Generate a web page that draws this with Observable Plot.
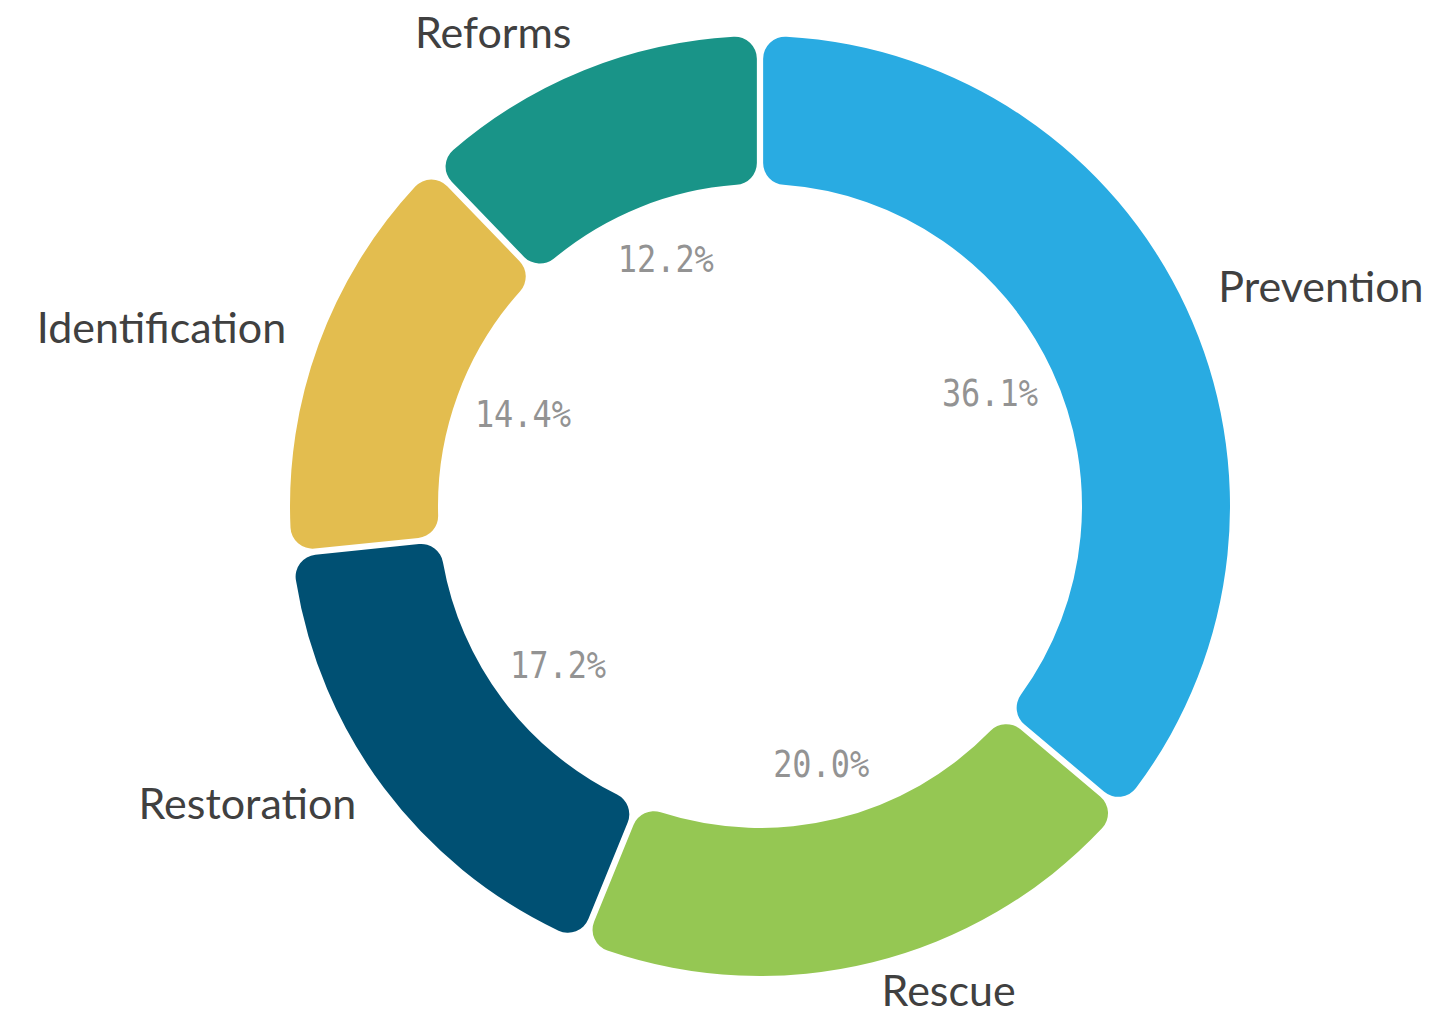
<!DOCTYPE html>
<html>
<head>
<meta charset="utf-8">
<script src="https://cdn.jsdelivr.net/npm/d3@7"></script>
<script src="https://cdn.jsdelivr.net/npm/@observablehq/plot@0.6"></script>
<style>
  html, body { margin: 0; padding: 0; background: #fff; }
  #chart svg { display: block; }
</style>
</head>
<body>
<div id="chart"></div>
<script>
// ---- data ----
const categories = ["Prevention", "Rescue", "Restoration", "Identification", "Reforms"];
const values = [36.1, 20.0, 17.2, 14.4, 12.2];
const percentLabels = ["36.1%", "20.0%", "17.2%", "14.4%", "12.2%"];
const colors = ["#29abe2", "#95c753", "#005073", "#e3bd4f", "#199488"];

// ---- layout ----
const W = 1449, H = 1014;
const CX = 760, CY = 506;       // ring centre in pixels
const R_OUT = 470, R_IN = 322;  // ring radii
const R_PCT_X = 253, R_PCT_Y = 266, R_LABEL = 505;

const pie = d3.pie().sort(null).value(d => d.value);
const rows = categories.map((c, i) => ({category: c, value: values[i], pct: percentLabels[i], color: colors[i]}));
const arcs = pie(rows).map(a => {
  const mid = (a.startAngle + a.endAngle) / 2;
  return {...a.data, startAngle: a.startAngle, endAngle: a.endAngle, mid,
    px: R_PCT_X * Math.sin(mid), py: R_PCT_Y * Math.cos(mid),
    lx: R_LABEL * Math.sin(mid), ly: R_LABEL * Math.cos(mid)};
});

const ringMark = (index, scales) => {
  const cx = scales.x(0), cy = scales.y(0);
  const k = scales.x(1) - scales.x(0);
  const arc = d3.arc()
    .innerRadius(R_IN * k).outerRadius(R_OUT * k)
    .cornerRadius(22 * k).padAngle(0.011);
  const g = d3.create("svg:g").attr("transform", `translate(${cx},${cy})`);
  g.selectAll("path").data(arcs).join("path")
    .attr("d", d => arc(d))
    .attr("fill", d => d.color);
  return g.node();
};

const labelFont = "Lato, 'Noto Sans', sans-serif";
const chart = Plot.plot({
  width: W, height: H, margin: 0,
  x: {domain: [-CX, W - CX], axis: null},
  y: {domain: [-(H - CY), CY], axis: null},
  marks: [
    ringMark,
    Plot.text(arcs, {x: "px", y: "py", text: "pct", fill: "#939393",
      fontSize: 37, fontFamily: "'DejaVu Sans Mono', monospace"}),
    Plot.text(arcs.filter(d => Math.sin(d.mid) >= 0), {x: "lx", y: "ly", text: "category", dy: -5,
      textAnchor: "start", fill: "#404040", fontSize: 43, fontFamily: labelFont}),
    Plot.text(arcs.filter(d => Math.sin(d.mid) < 0), {x: "lx", y: "ly", text: "category", dy: -4,
      textAnchor: "end", fill: "#404040", fontSize: 43, fontFamily: labelFont})
  ]
});
// condense the percentage labels to the reference's narrow width
d3.select(chart).selectAll("text").each(function() {
  const t = this.textContent;
  if (t.endsWith("%")) {
    d3.select(this).attr("textLength", 96).attr("lengthAdjust", "spacingAndGlyphs");
  }
});
document.getElementById("chart").append(chart);
</script>
</body>
</html>
